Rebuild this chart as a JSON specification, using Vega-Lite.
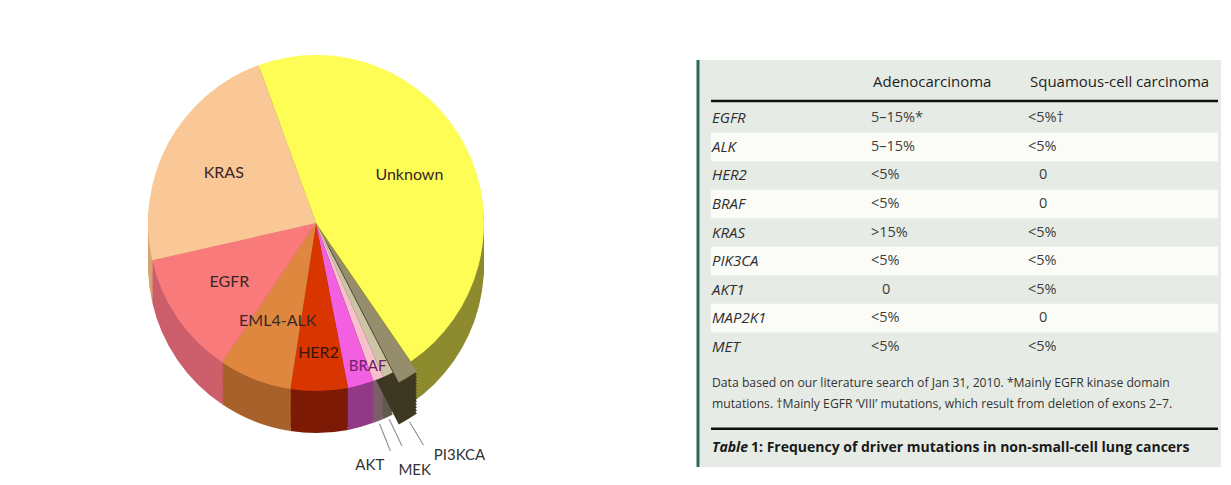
{
  "$schema": "https://vega.github.io/schema/vega-lite/v6.json",
  "padding": {"left": 0, "top": 55, "right": 0, "bottom": 0},
  "background": "white",
  "spacing": 65,
  "bounds": "flush",
  "config": {"view": {"stroke": null}, "text": {"font": "Open Sans"}},
  "datasets": {
    "slices": [
      {"gene": "Unknown", "pct": 46, "k": 1},
      {"gene": "PI3KCA", "pct": 2, "k": 2},
      {"gene": "MEK", "pct": 1, "k": 3},
      {"gene": "AKT", "pct": 1, "k": 4},
      {"gene": "BRAF", "pct": 2.5, "k": 5},
      {"gene": "HER2", "pct": 5.5, "k": 6},
      {"gene": "EML4-ALK", "pct": 7, "k": 7},
      {"gene": "EGFR", "pct": 12, "k": 8},
      {"gene": "KRAS", "pct": 23, "k": 9}
    ],
    "cells": [
      {"row": 0, "col": 1, "text": "Adenocarcinoma"},
      {"row": 0, "col": 2, "text": "Squamous-cell carcinoma"},
      {"row": 1, "col": 0, "text": "EGFR"}, {"row": 1, "col": 1, "text": "5–15%*"}, {"row": 1, "col": 2, "text": "<5%†"},
      {"row": 2, "col": 0, "text": "ALK"}, {"row": 2, "col": 1, "text": "5–15%"}, {"row": 2, "col": 2, "text": "<5%"},
      {"row": 3, "col": 0, "text": "HER2"}, {"row": 3, "col": 1, "text": "<5%"}, {"row": 3, "col": 2, "text": "0"},
      {"row": 4, "col": 0, "text": "BRAF"}, {"row": 4, "col": 1, "text": "<5%"}, {"row": 4, "col": 2, "text": "0"},
      {"row": 5, "col": 0, "text": "KRAS"}, {"row": 5, "col": 1, "text": ">15%"}, {"row": 5, "col": 2, "text": "<5%"},
      {"row": 6, "col": 0, "text": "PIK3CA"}, {"row": 6, "col": 1, "text": "<5%"}, {"row": 6, "col": 2, "text": "<5%"},
      {"row": 7, "col": 0, "text": "AKT1"}, {"row": 7, "col": 1, "text": "0"}, {"row": 7, "col": 2, "text": "<5%"},
      {"row": 8, "col": 0, "text": "MAP2K1"}, {"row": 8, "col": 1, "text": "<5%"}, {"row": 8, "col": 2, "text": "0"},
      {"row": 9, "col": 0, "text": "MET"}, {"row": 9, "col": 1, "text": "<5%"}, {"row": 9, "col": 2, "text": "<5%"}
    ],
    "notes": [
      {"kind": "note", "row": 10, "col": 0, "text": "Data based on our literature search of Jan 31, 2010. *Mainly EGFR kinase domain\nmutations. †Mainly EGFR ‘VIII’ mutations, which result from deletion of exons 2–7."},
      {"kind": "capA", "row": 12, "col": 0, "text": "Table"},
      {"kind": "capB", "row": 12, "col": 0, "text": "1: Frequency of driver mutations in non-small-cell lung cancers"}
    ]
  },
  "hconcat": [
    {
      "width": 632,
      "height": 326,
      "data": {"name": "slices"},
      "encoding": {
        "theta": {"field": "pct", "type": "quantitative", "stack": true, "scale": {"range": [-0.349, 5.934]}},
        "order": {"field": "k", "type": "quantitative"}
      },
      "layer": [
        {"mark": {"type": "arc", "radius": 168, "yOffset": 42}, "encoding": {"color": {"field": "gene", "type": "nominal", "legend": null, "scale": {"domain": ["Unknown", "PI3KCA", "MEK", "AKT", "BRAF", "HER2", "EML4-ALK", "EGFR", "KRAS"], "range": ["#8d8b2e", "#3e3822", "#5e5b4d", "#7b5e66", "#923a86", "#7c1a06", "#a8612a", "#cc5f6b", "#d6a473"]}}, "opacity": {"condition": {"test": "datum.gene === 'PI3KCA'", "value": 0}, "value": 1}}},
        {"mark": {"type": "arc", "radius": 168, "yOffset": 39}, "encoding": {"color": {"field": "gene", "type": "nominal", "legend": null}, "opacity": {"condition": {"test": "datum.gene === 'PI3KCA'", "value": 0}, "value": 1}}},
        {"mark": {"type": "arc", "radius": 168, "yOffset": 36}, "encoding": {"color": {"field": "gene", "type": "nominal", "legend": null}, "opacity": {"condition": {"test": "datum.gene === 'PI3KCA'", "value": 0}, "value": 1}}},
        {"mark": {"type": "arc", "radius": 168, "yOffset": 33}, "encoding": {"color": {"field": "gene", "type": "nominal", "legend": null}, "opacity": {"condition": {"test": "datum.gene === 'PI3KCA'", "value": 0}, "value": 1}}},
        {"mark": {"type": "arc", "radius": 168, "yOffset": 30}, "encoding": {"color": {"field": "gene", "type": "nominal", "legend": null}, "opacity": {"condition": {"test": "datum.gene === 'PI3KCA'", "value": 0}, "value": 1}}},
        {"mark": {"type": "arc", "radius": 168, "yOffset": 27}, "encoding": {"color": {"field": "gene", "type": "nominal", "legend": null}, "opacity": {"condition": {"test": "datum.gene === 'PI3KCA'", "value": 0}, "value": 1}}},
        {"mark": {"type": "arc", "radius": 168, "yOffset": 24}, "encoding": {"color": {"field": "gene", "type": "nominal", "legend": null}, "opacity": {"condition": {"test": "datum.gene === 'PI3KCA'", "value": 0}, "value": 1}}},
        {"mark": {"type": "arc", "radius": 168, "yOffset": 21}, "encoding": {"color": {"field": "gene", "type": "nominal", "legend": null}, "opacity": {"condition": {"test": "datum.gene === 'PI3KCA'", "value": 0}, "value": 1}}},
        {"mark": {"type": "arc", "radius": 168, "yOffset": 18}, "encoding": {"color": {"field": "gene", "type": "nominal", "legend": null}, "opacity": {"condition": {"test": "datum.gene === 'PI3KCA'", "value": 0}, "value": 1}}},
        {"mark": {"type": "arc", "radius": 168, "yOffset": 15}, "encoding": {"color": {"field": "gene", "type": "nominal", "legend": null}, "opacity": {"condition": {"test": "datum.gene === 'PI3KCA'", "value": 0}, "value": 1}}},
        {"mark": {"type": "arc", "radius": 168, "yOffset": 12}, "encoding": {"color": {"field": "gene", "type": "nominal", "legend": null}, "opacity": {"condition": {"test": "datum.gene === 'PI3KCA'", "value": 0}, "value": 1}}},
        {"mark": {"type": "arc", "radius": 168, "yOffset": 9}, "encoding": {"color": {"field": "gene", "type": "nominal", "legend": null}, "opacity": {"condition": {"test": "datum.gene === 'PI3KCA'", "value": 0}, "value": 1}}},
        {"mark": {"type": "arc", "radius": 168, "yOffset": 6}, "encoding": {"color": {"field": "gene", "type": "nominal", "legend": null}, "opacity": {"condition": {"test": "datum.gene === 'PI3KCA'", "value": 0}, "value": 1}}},
        {"mark": {"type": "arc", "radius": 168, "yOffset": 3}, "encoding": {"color": {"field": "gene", "type": "nominal", "legend": null}, "opacity": {"condition": {"test": "datum.gene === 'PI3KCA'", "value": 0}, "value": 1}}},
        {"mark": {"type": "arc", "radius": 168, "xOffset": 6, "yOffset": 52}, "encoding": {"color": {"field": "gene", "type": "nominal", "legend": null}, "opacity": {"condition": {"test": "datum.gene === 'PI3KCA'", "value": 1}, "value": 0}}},
        {"mark": {"type": "arc", "radius": 168, "xOffset": 6, "yOffset": 49}, "encoding": {"color": {"field": "gene", "type": "nominal", "legend": null}, "opacity": {"condition": {"test": "datum.gene === 'PI3KCA'", "value": 1}, "value": 0}}},
        {"mark": {"type": "arc", "radius": 168, "xOffset": 6, "yOffset": 46}, "encoding": {"color": {"field": "gene", "type": "nominal", "legend": null}, "opacity": {"condition": {"test": "datum.gene === 'PI3KCA'", "value": 1}, "value": 0}}},
        {"mark": {"type": "arc", "radius": 168, "xOffset": 6, "yOffset": 43}, "encoding": {"color": {"field": "gene", "type": "nominal", "legend": null}, "opacity": {"condition": {"test": "datum.gene === 'PI3KCA'", "value": 1}, "value": 0}}},
        {"mark": {"type": "arc", "radius": 168, "xOffset": 6, "yOffset": 40}, "encoding": {"color": {"field": "gene", "type": "nominal", "legend": null}, "opacity": {"condition": {"test": "datum.gene === 'PI3KCA'", "value": 1}, "value": 0}}},
        {"mark": {"type": "arc", "radius": 168, "xOffset": 6, "yOffset": 37}, "encoding": {"color": {"field": "gene", "type": "nominal", "legend": null}, "opacity": {"condition": {"test": "datum.gene === 'PI3KCA'", "value": 1}, "value": 0}}},
        {"mark": {"type": "arc", "radius": 168, "xOffset": 6, "yOffset": 34}, "encoding": {"color": {"field": "gene", "type": "nominal", "legend": null}, "opacity": {"condition": {"test": "datum.gene === 'PI3KCA'", "value": 1}, "value": 0}}},
        {"mark": {"type": "arc", "radius": 168, "xOffset": 6, "yOffset": 31}, "encoding": {"color": {"field": "gene", "type": "nominal", "legend": null}, "opacity": {"condition": {"test": "datum.gene === 'PI3KCA'", "value": 1}, "value": 0}}},
        {"mark": {"type": "arc", "radius": 168, "xOffset": 6, "yOffset": 28}, "encoding": {"color": {"field": "gene", "type": "nominal", "legend": null}, "opacity": {"condition": {"test": "datum.gene === 'PI3KCA'", "value": 1}, "value": 0}}},
        {"mark": {"type": "arc", "radius": 168, "xOffset": 6, "yOffset": 25}, "encoding": {"color": {"field": "gene", "type": "nominal", "legend": null}, "opacity": {"condition": {"test": "datum.gene === 'PI3KCA'", "value": 1}, "value": 0}}},
        {"mark": {"type": "arc", "radius": 168, "xOffset": 6, "yOffset": 22}, "encoding": {"color": {"field": "gene", "type": "nominal", "legend": null}, "opacity": {"condition": {"test": "datum.gene === 'PI3KCA'", "value": 1}, "value": 0}}},
        {"mark": {"type": "arc", "radius": 168, "xOffset": 6, "yOffset": 19}, "encoding": {"color": {"field": "gene", "type": "nominal", "legend": null}, "opacity": {"condition": {"test": "datum.gene === 'PI3KCA'", "value": 1}, "value": 0}}},
        {"mark": {"type": "arc", "radius": 168, "xOffset": 6, "yOffset": 16}, "encoding": {"color": {"field": "gene", "type": "nominal", "legend": null}, "opacity": {"condition": {"test": "datum.gene === 'PI3KCA'", "value": 1}, "value": 0}}},
        {"mark": {"type": "arc", "radius": 168, "xOffset": 6, "yOffset": 13}, "encoding": {"color": {"field": "gene", "type": "nominal", "legend": null}, "opacity": {"condition": {"test": "datum.gene === 'PI3KCA'", "value": 1}, "value": 0}}},
        {"mark": {"type": "arc", "radius": 168}, "encoding": {"fill": {"field": "gene", "type": "nominal", "legend": null, "scale": {"domain": ["Unknown", "PI3KCA", "MEK", "AKT", "BRAF", "HER2", "EML4-ALK", "EGFR", "KRAS"], "range": ["#fdfd55", "#968d6c", "#cdc4a6", "#f8c0cb", "#f25fe0", "#d93500", "#e0873f", "#f97a7a", "#f9c896"]}}, "opacity": {"condition": {"test": "datum.gene === 'PI3KCA'", "value": 0}, "value": 1}}},
        {"mark": {"type": "arc", "radius": 168, "xOffset": 6, "yOffset": 10}, "encoding": {"fill": {"field": "gene", "type": "nominal", "legend": null}, "opacity": {"condition": {"test": "datum.gene === 'PI3KCA'", "value": 1}, "value": 0}}},
        {
          "mark": {"type": "arc", "radius": 200, "radius2": 171, "padAngle": 0.1, "yOffset": 42, "fillOpacity": 0, "stroke": "#9a9a9a", "strokeWidth": 1},
          "encoding": {"opacity": {"condition": {"test": "datum.gene === 'AKT' || datum.gene === 'MEK'", "value": 1}, "value": 0}}
        },
        {
          "mark": {"type": "arc", "radius": 198, "radius2": 171, "padAngle": 0.2, "xOffset": 6, "yOffset": 52, "fillOpacity": 0, "stroke": "#9a9a9a", "strokeWidth": 1},
          "encoding": {"opacity": {"condition": {"test": "datum.gene === 'PI3KCA'", "value": 1}, "value": 0}}
        },
        {
          "mark": {"type": "text", "radius": 105, "font": "Lato", "fontSize": 16, "fill": "#3a2626"},
          "encoding": {"text": {"field": "gene"}, "opacity": {"condition": {"test": "indexof(['Unknown','KRAS','EGFR','EML4-ALK'], datum.gene) >= 0", "value": 1}, "value": 0}}
        },
        {
          "mark": {"type": "text", "radius": 130, "font": "Lato", "fontSize": 16, "fill": "#3a1408"},
          "encoding": {"text": {"field": "gene"}, "opacity": {"condition": {"test": "datum.gene === 'HER2'", "value": 1}, "value": 0}}
        },
        {
          "mark": {"type": "text", "radius": 148, "dx": 12, "font": "Lato", "fontSize": 15, "fill": "#6b1f66"},
          "encoding": {"text": {"field": "gene"}, "opacity": {"condition": {"test": "datum.gene === 'BRAF'", "value": 1}, "value": 0}}
        },
        {
          "mark": {"type": "text", "radius": 258, "dx": -42, "dy": 2, "font": "Lato", "fontSize": 15, "fill": "#333333"},
          "encoding": {"text": {"field": "gene"}, "opacity": {"condition": {"test": "datum.gene === 'AKT'", "value": 1}, "value": 0}}
        },
        {
          "mark": {"type": "text", "radius": 258, "dx": -12, "dy": 14, "font": "Lato", "fontSize": 15, "fill": "#333333"},
          "encoding": {"text": {"field": "gene"}, "opacity": {"condition": {"test": "datum.gene === 'MEK'", "value": 1}, "value": 0}}
        },
        {
          "mark": {"type": "text", "radius": 245, "dx": 18, "dy": 22, "font": "Lato", "fontSize": 15, "fill": "#333333"},
          "encoding": {"text": {"field": "gene"}, "opacity": {"condition": {"test": "datum.gene === 'PI3KCA'", "value": 1}, "value": 0}}
        }
      ]
    },
    {
      "width": 524,
      "height": 407,
      "view": {"fill": "#e6ece5", "stroke": null},
      "layer": [
        {
          "data": {"name": "cells"},
          "transform": [{"filter": "datum.col === 0 && datum.row > 0 && datum.row % 2 === 0"}],
          "mark": {"type": "rule", "stroke": "#fbfcf8", "strokeWidth": 28.5, "strokeCap": "butt"},
          "encoding": {
            "x": {"datum": -0.0191, "type": "quantitative", "scale": {"domain": [-0.1083, 3.2293], "nice": false, "zero": false}, "axis": null},
            "x2": {"datum": 3.2102},
            "y": {"field": "row", "type": "quantitative", "scale": {"domain": [-1.0526, 13.228], "nice": false, "zero": false, "reverse": true}, "axis": null}
          }
        },
        {
          "data": {"values": [{}]},
          "mark": {"type": "rule", "stroke": "#2d6a56", "strokeWidth": 3},
          "encoding": {
            "x": {"datum": -0.102, "type": "quantitative", "axis": null},
            "y": {"datum": -1.0526, "type": "quantitative", "axis": null},
            "y2": {"datum": 13.228}
          }
        },
        {
          "data": {"values": [{}]},
          "mark": {"type": "rule", "stroke": "#111111", "strokeWidth": 2.5},
          "encoding": {
            "x": {"datum": -0.0191, "type": "quantitative", "axis": null},
            "x2": {"datum": 3.2102},
            "y": {"datum": 0.386, "type": "quantitative", "axis": null}
          }
        },
        {
          "data": {"values": [{}]},
          "mark": {"type": "rule", "stroke": "#111111", "strokeWidth": 2.5},
          "encoding": {
            "x": {"datum": -0.0191, "type": "quantitative", "axis": null},
            "x2": {"datum": 3.2102},
            "y": {"datum": 11.89, "type": "quantitative", "axis": null}
          }
        },
        {
          "data": {"name": "cells"},
          "transform": [{"filter": "datum.row === 0"}],
          "mark": {"type": "text", "align": "left", "baseline": "middle", "fontSize": 15, "fill": "#1d1d1d", "dx": 2, "dy": -8},
          "encoding": {
            "x": {"field": "col", "type": "quantitative", "axis": null},
            "y": {"field": "row", "type": "quantitative", "axis": null},
            "text": {"field": "text"}
          }
        },
        {
          "data": {"name": "cells"},
          "transform": [{"filter": "datum.col === 0 && datum.row > 0"}],
          "mark": {"type": "text", "align": "left", "baseline": "middle", "fontSize": 15, "fontStyle": "italic", "fill": "#2e2e2e", "dx": -2},
          "encoding": {
            "x": {"field": "col", "type": "quantitative", "axis": null},
            "y": {"field": "row", "type": "quantitative", "axis": null},
            "text": {"field": "text"}
          }
        },
        {
          "data": {"name": "cells"},
          "transform": [{"filter": "datum.col > 0 && datum.row > 0 && datum.text !== '0'"}],
          "mark": {"type": "text", "align": "left", "baseline": "middle", "fontSize": 14.5, "fill": "#3c3c3c"},
          "encoding": {
            "x": {"field": "col", "type": "quantitative", "axis": null},
            "y": {"field": "row", "type": "quantitative", "axis": null},
            "text": {"field": "text"}
          }
        },
        {
          "data": {"name": "cells"},
          "transform": [{"filter": "datum.text === '0'"}],
          "mark": {"type": "text", "align": "left", "baseline": "middle", "fontSize": 14.5, "fill": "#3c3c3c", "dx": 11},
          "encoding": {
            "x": {"field": "col", "type": "quantitative", "axis": null},
            "y": {"field": "row", "type": "quantitative", "axis": null},
            "text": {"field": "text"}
          }
        },
        {
          "data": {"name": "notes"},
          "transform": [{"filter": "datum.kind === 'note'"}],
          "mark": {"type": "text", "align": "left", "baseline": "top", "fontSize": 12.2, "lineHeight": 21, "lineBreak": "\n", "fill": "#333333", "dx": -2, "dy": 2},
          "encoding": {
            "x": {"field": "col", "type": "quantitative", "axis": null},
            "y": {"field": "row", "type": "quantitative", "axis": null},
            "text": {"field": "text"}
          }
        },
        {
          "data": {"name": "notes"},
          "transform": [{"filter": "datum.kind === 'capA'"}],
          "mark": {"type": "text", "align": "left", "baseline": "middle", "fontSize": 14, "fontWeight": "bold", "fontStyle": "italic", "fill": "#1a1a1a", "dx": -2, "dy": 16},
          "encoding": {
            "x": {"field": "col", "type": "quantitative", "axis": null},
            "y": {"field": "row", "type": "quantitative", "axis": null},
            "text": {"field": "text"}
          }
        },
        {
          "data": {"name": "notes"},
          "transform": [{"filter": "datum.kind === 'capB'"}],
          "mark": {"type": "text", "align": "left", "baseline": "middle", "fontSize": 14, "fontWeight": "bold", "fill": "#1a1a1a", "dx": 37, "dy": 16},
          "encoding": {
            "x": {"field": "col", "type": "quantitative", "axis": null},
            "y": {"field": "row", "type": "quantitative", "axis": null},
            "text": {"field": "text"}
          }
        }
      ]
    }
  ]
}
